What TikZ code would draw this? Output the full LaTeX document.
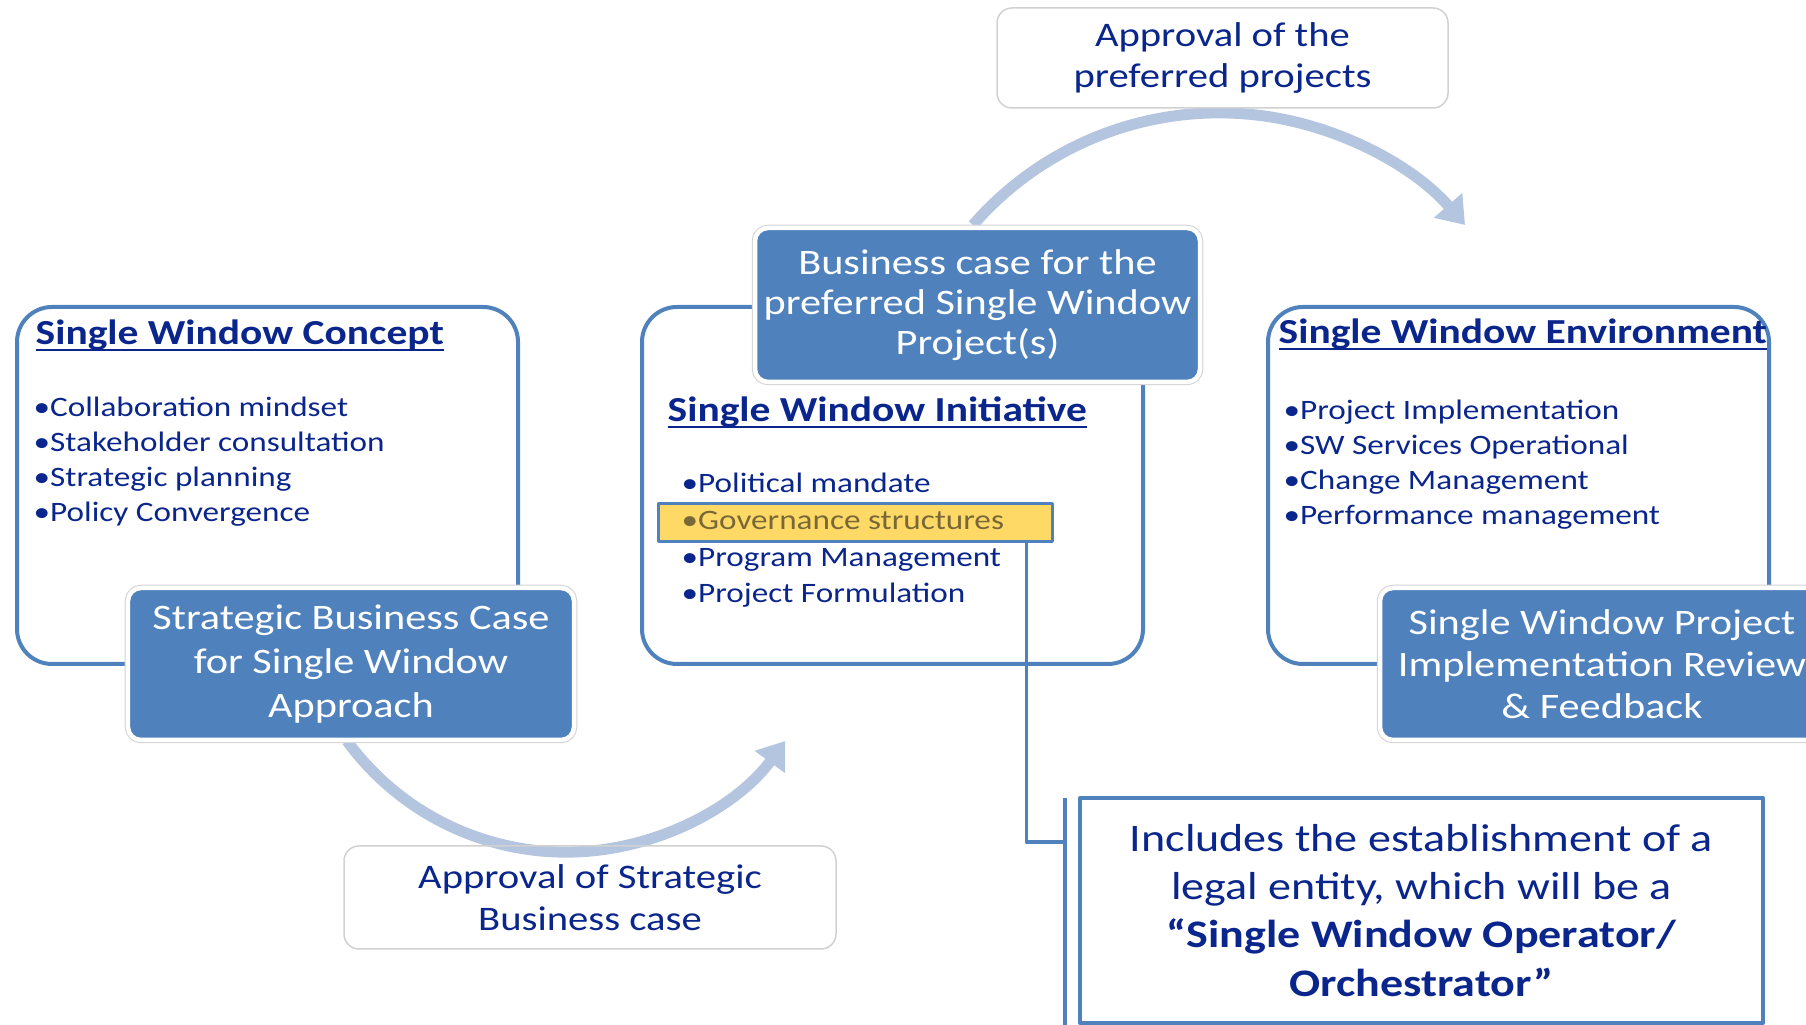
\documentclass[tikz,border=0pt]{standalone}
\usepackage{fontspec}
\setmainfont{Carlito}[FakeStretch=1.18]
\usetikzlibrary{arrows.meta}
\definecolor{boxblue}{RGB}{79,129,189}
\definecolor{arcblue}{RGB}{180,197,223}
\definecolor{navy}{RGB}{10,38,140}
\definecolor{hlfill}{RGB}{255,217,102}
\definecolor{hltext}{RGB}{120,104,56}
\newcommand{\hdline}[1]{\setbox0\hbox{#1}\rlap{\rule[-0.065cm]{\wd0}{0.02cm}}\box0}
\begin{document}
\begin{tikzpicture}[line join=round,
	arc/.style={arcblue,line width=0.11cm,-{Triangle[width=0.36cm,length=0.26cm]}},
	frame/.style={draw=boxblue,line width=0.04cm,rounded corners=0.35cm,minimum width=5.01cm,minimum height=3.57cm},
	stage/.style={fill=boxblue,draw=white,line width=0.045cm,rounded corners=0.13cm,preaction={draw=black!18,line width=0.065cm},text=white,align=center,inner sep=0pt,font=\fontsize{10.2}{12}\selectfont},
	approval/.style={draw=black!18,line width=0.015cm,rounded corners=0.15cm,text=navy,align=center,font=\fontsize{9.8}{11.8}\selectfont},
	heading/.style={anchor=base west,inner sep=0pt,text=navy,font=\fontsize{10}{12}\selectfont\bfseries},
	items/.style={anchor=base west,inner sep=0pt,text=navy,align=left},
	]
	\useasboundingbox (0,0) rectangle (18.06,10.25);
	\draw[arc] (9.73,8.00) arc[start angle=139,end angle=41,radius=3.26];
	\draw[arc] (3.47,2.84) arc[start angle=-143.8,end angle=-36.2,radius=2.715];
	\node[frame] (concept) at (2.675,5.395) {};
	\node[frame] (initiative) at (8.925,5.395) {};
	\node[frame] (environment) at (15.185,5.395) {};
	\node[draw=boxblue,line width=0.03cm,fill=hlfill,minimum width=3.94cm,minimum height=0.38cm,inner sep=0pt] (govern) at (8.55,5.02) {};
	\node[heading] (conceptttl) at (0.35,6.80) {\hdline{Single Window Concept}};
	\node[items,font=\fontsize{8}{9.96}\selectfont] (conceptlist) at (0.33,5.03)
		{•Collaboration mindset\\•Stakeholder consultation\\•Strategic planning\\•Policy Convergence};
	\node[heading] (initiativettl) at (6.67,6.03) {\hdline{Single Window Initiative}};
	\node[items,font=\fontsize{8}{10.45}\selectfont] (initiativelist) at (6.81,4.22)
		{•Political mandate\\\textcolor{hltext}{•Governance structures}\\•Program Management\\•Project Formulation};
	\node[heading] (environmentttl) at (12.78,6.81) {\hdline{Single Window Environment}};
	\node[items,font=\fontsize{8}{9.96}\selectfont] (environmentlist) at (12.83,5.00)
		{•Project Implementation\\•SW Services Operational\\•Change Management\\•Performance management};
	\node[stage,minimum width=4.46cm,minimum height=1.52cm,font=\fontsize{10.2}{12.5}\selectfont] (strategic) at (3.51,3.61)
		{Strategic Business Case\\for Single Window\\Approach};
	\node[stage,minimum width=4.45cm,minimum height=1.54cm,font=\fontsize{10.2}{11.4}\selectfont] (business) at (9.775,7.20)
		{Business case for the\\preferred Single Window\\Project(s)};
	\node[stage,minimum width=4.44cm,minimum height=1.52cm] (review) at (16.02,3.61)
		{Single Window Project\\Implementation Review\\\& Feedback};
	\node[approval,minimum width=4.51cm,minimum height=1.0cm] (approveprojects) at (12.225,9.67)
		{Approval of the\\preferred projects};
	\node[approval,minimum width=4.92cm,minimum height=1.03cm] (approvecase) at (5.90,1.275)
		{Approval of Strategic\\Business case};
	\node[draw=boxblue,line width=0.04cm,minimum width=6.83cm,minimum height=2.25cm,text=navy,align=center,font=\fontsize{11.1}{13.7}\selectfont] (operator) at (14.215,1.145)
		{Includes the establishment of a\\legal entity, which will be a\\\textbf{“Single Window Operator/}\\\textbf{Orchestrator”}};
	\coordinate (bartop) at (10.65,2.27);
	\coordinate (barbot) at (10.65,-0.05);
	\coordinate (barjoin) at (10.65,1.83);
	\draw[boxblue,line width=0.035cm] (bartop) -- (barbot);
	\draw[boxblue,line width=0.035cm] ([xshift=-0.27cm]govern.south east) |- (barjoin);
\end{tikzpicture}
\end{document}
